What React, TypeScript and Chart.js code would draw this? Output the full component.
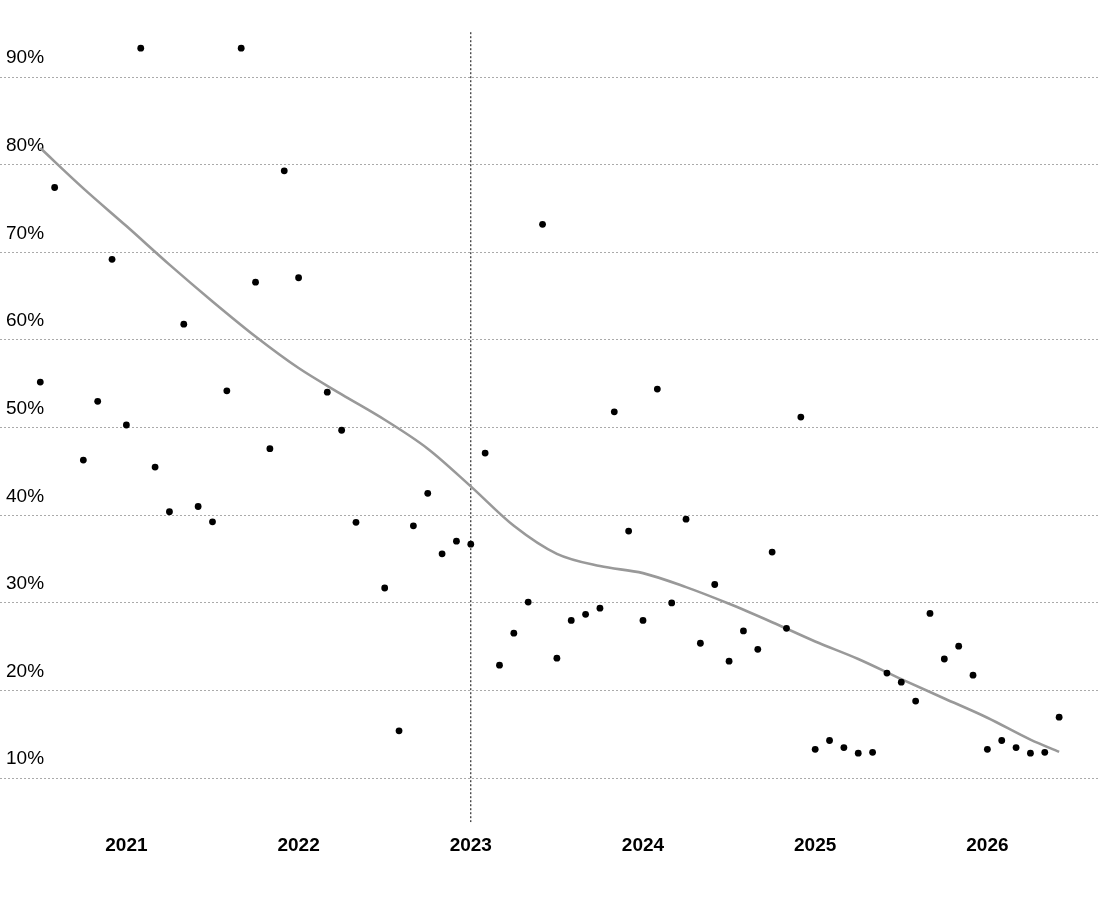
import React, { useEffect, useRef } from "react";
import { Chart, registerables } from "chart.js";

Chart.register(...registerables);

// Monthly observations (YYYY-MM) and their values in %
const months = [
  "2020-07", "2020-08", "2020-10", "2020-11", "2020-12",
  "2021-01", "2021-02", "2021-03", "2021-04", "2021-05", "2021-06",
  "2021-07", "2021-08", "2021-09", "2021-10", "2021-11", "2021-12",
  "2022-01", "2022-03", "2022-04", "2022-05", "2022-07", "2022-08",
  "2022-09", "2022-10", "2022-11", "2022-12",
  "2023-01", "2023-02", "2023-03", "2023-04", "2023-05", "2023-06",
  "2023-07", "2023-08", "2023-09", "2023-10", "2023-11", "2023-12",
  "2024-01", "2024-02", "2024-03", "2024-04", "2024-05", "2024-06",
  "2024-07", "2024-08", "2024-09", "2024-10", "2024-11", "2024-12",
  "2025-01", "2025-02", "2025-03", "2025-04", "2025-05", "2025-06",
  "2025-07", "2025-08", "2025-09", "2025-10", "2025-11", "2025-12",
  "2026-01", "2026-02", "2026-03", "2026-04", "2026-05", "2026-06",
];
const values = [
  55.2, 77.4, 46.3, 53.0, 69.2,
  50.3, 93.3, 45.5, 40.4, 61.8, 41.0,
  39.25, 54.2, 93.3, 66.6, 47.6, 79.3,
  67.1, 54.05, 49.7, 39.2, 31.7, 15.4,
  38.8, 42.5, 35.6, 37.05,
  36.7, 47.1, 22.9, 26.55, 30.1, 73.2,
  23.7, 28.0, 28.7, 29.4, 51.8, 38.2,
  28.0, 54.4, 30.0, 39.56, 25.4, 32.1,
  23.35, 26.8, 24.7, 35.8, 27.1, 51.2,
  13.3, 14.3, 13.5, 12.85, 12.95, 22.0,
  20.96, 18.8, 28.8, 23.6, 25.06, 21.75,
  13.3, 14.3, 13.5, 12.85, 12.95, 16.96,
];

// Smoothed trend
const trendMonths = [
  "2020-07", "2020-10", "2021-01", "2021-04", "2021-07", "2021-10",
  "2022-01", "2022-04", "2022-07", "2022-10", "2023-01", "2023-04",
  "2023-07", "2023-10", "2024-01", "2024-04", "2024-07", "2024-10",
  "2025-01", "2025-04", "2025-07", "2025-10", "2026-01", "2026-04", "2026-06",
];
const trendValues = [
  81.9, 77.3, 73.0, 68.6, 64.4, 60.4,
  56.8, 53.8, 50.9, 47.6, 43.3, 38.8,
  35.6, 34.2, 33.4, 31.8, 29.9, 27.8,
  25.6, 23.6, 21.3, 19.1, 16.9, 14.4, 13.0,
];

const xTicks = [2021, 2022, 2023, 2024, 2025, 2026];
const yTicks = [10, 20, 30, 40, 50, 60, 70, 80, 90];
const markerYear = 2023;

const xMin = 2020.266;
const xMax = 2026.654;
const yMin = 4.98;
const yMax = 95.14;

const FONT = "'Liberation Sans', Arial, sans-serif";

const toYear = (m: string) => {
  const [y, mo] = m.split("-").map(Number);
  return y + (mo - 1) / 12;
};

export default function App() {
  const ref = useRef<HTMLCanvasElement | null>(null);

  useEffect(() => {
    if (!ref.current) return;
    const chart = new Chart(ref.current, {
      type: "scatter",
      data: {
        datasets: [
          {
            type: "scatter",
            data: months.map((m, i) => ({ x: toYear(m), y: values[i] })),
            backgroundColor: "#000000",
            borderColor: "#000000",
            borderWidth: 0,
            pointRadius: 3.4,
            pointHoverRadius: 3.4,
          },
          {
            type: "line",
            data: trendMonths.map((m, i) => ({ x: toYear(m), y: trendValues[i] })),
            borderColor: "#999999",
            borderWidth: 2.6,
            pointRadius: 0,
            cubicInterpolationMode: "monotone",
            fill: false,
          },
          {
            type: "line",
            data: [
              { x: markerYear, y: yMin },
              { x: markerYear, y: yMax },
            ],
            borderColor: "#000000",
            borderWidth: 1,
            borderDash: [2, 2],
            pointRadius: 0,
            fill: false,
          },
        ],
      },
      options: {
        animation: false,
        responsive: true,
        maintainAspectRatio: false,
        layout: { autoPadding: false, padding: { top: 32, bottom: 31, left: 0, right: 0 } },
        plugins: {
          legend: { display: false },
          tooltip: { enabled: false },
        },
        scales: {
          x: {
            type: "linear",
            min: xMin,
            max: xMax,
            grid: { display: false, drawTicks: false },
            border: { display: false },
            afterBuildTicks: (axis: any) => {
              axis.ticks = xTicks.map((v) => ({ value: v }));
            },
            ticks: {
              padding: 12,
              color: "#000000",
              font: { family: FONT, size: 19, weight: "bold" },
              callback: (v: any) => String(v),
            },
          },
          y: {
            type: "linear",
            min: yMin,
            max: yMax,
            grid: { color: "#aaaaaa", lineWidth: 1, drawTicks: false },
            border: { display: false, dash: [2, 2] },
            afterBuildTicks: (axis: any) => {
              axis.ticks = yTicks.map((v) => ({ value: v }));
            },
            afterFit: (scale: any) => {
              scale.width = 0;
            },
            ticks: {
              mirror: true,
              padding: 6,
              labelOffset: -19,
              color: "#000000",
              font: { family: FONT, size: 19 },
              callback: (v: any) => `${v}%`,
            },
          },
        },
      },
    });
    return () => chart.destroy();
  }, []);

  return (
    <div style={{ position: "absolute", left: 0, top: 0, width: 1100, height: 900 }}>
      <canvas ref={ref} />
    </div>
  );
}
